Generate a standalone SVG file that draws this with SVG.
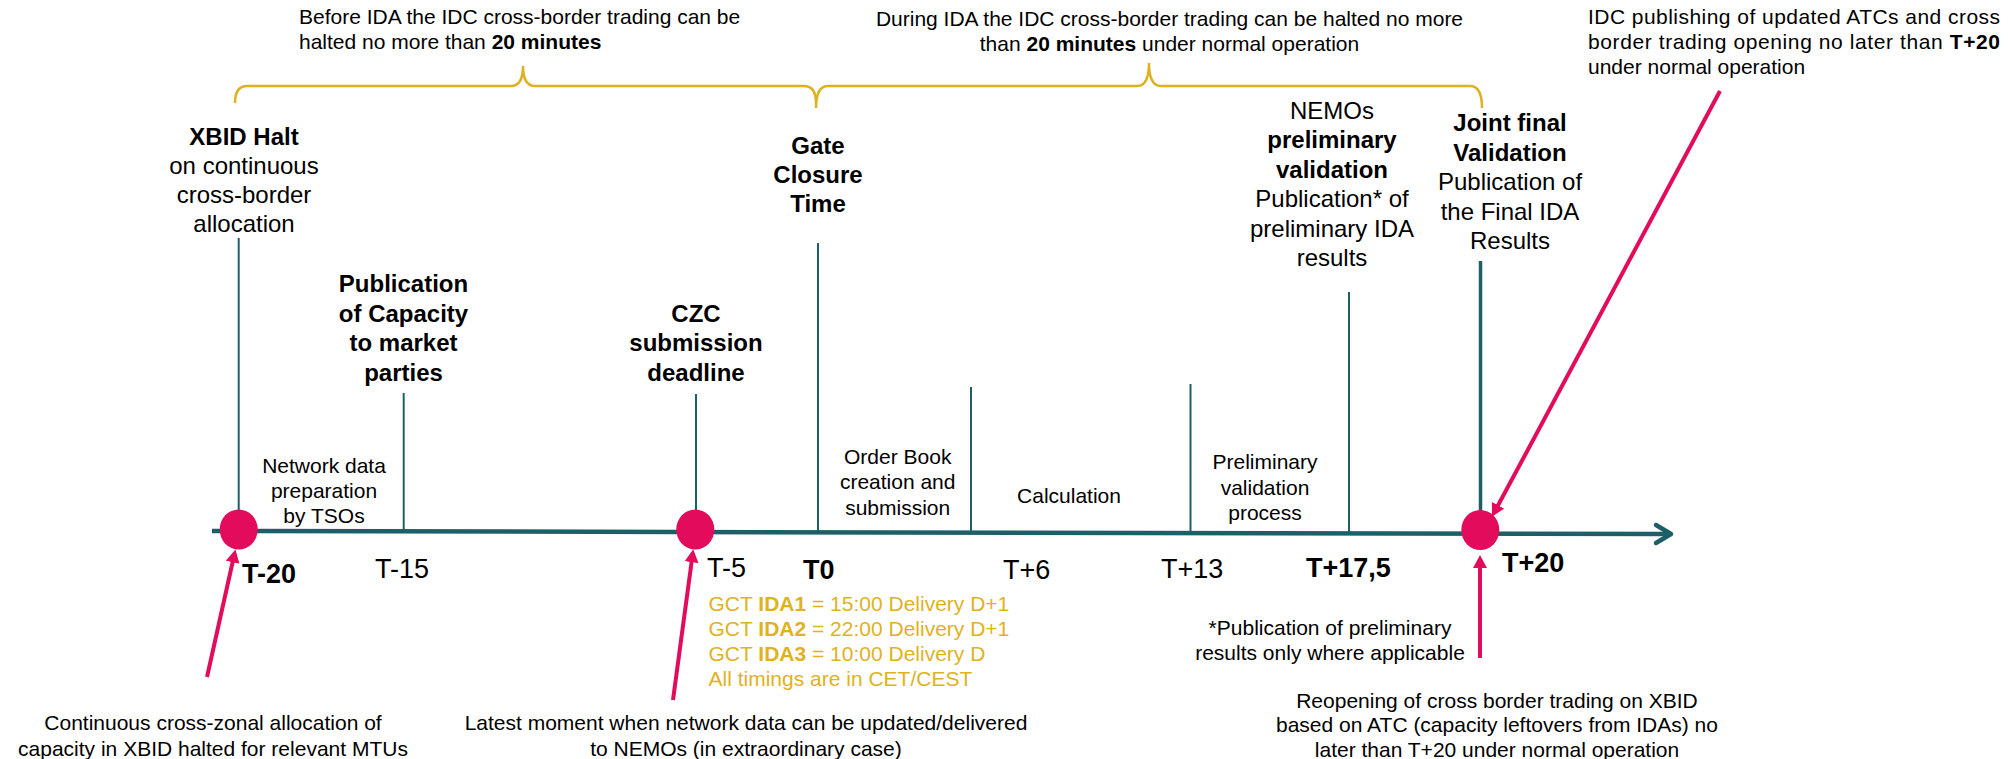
<svg xmlns="http://www.w3.org/2000/svg" width="2009" height="759" viewBox="0 0 2009 759">
<style>
text{font-family:"Liberation Sans",Arial,sans-serif;fill:#000}
.lab{font-size:24px;text-anchor:middle}
.sm{font-size:21px}
.smc{font-size:21px;text-anchor:middle}
.tick{font-size:27px}
.b{font-weight:bold}
.gold{fill:#E0B21E;font-size:21px}
.vl{stroke:#1D5F66;stroke-width:2;fill:none}
.brace{stroke:#DDB11F;stroke-width:2.5;fill:none}
.pa{stroke:#E30B5C;stroke-width:4;fill:none;marker-end:url(#ah)}
.dot{fill:#E30B5C}
</style>
<defs>
<marker id="ah" markerUnits="userSpaceOnUse" markerWidth="14" markerHeight="14" refX="4" refY="7" orient="auto" viewBox="0 0 14 14">
<path d="M0,0 L13,7 L0,14 z" fill="#E30B5C"/>
</marker>
</defs>
<rect width="2009" height="759" fill="#fff"/>

<g id="connectors">
<line x1="212" y1="531" x2="1669" y2="534" stroke="#1D5F66" stroke-width="4.5"/>
<polyline points="1656,525 1671,534 1656,543" fill="none" stroke="#1D5F66" stroke-width="4.5" stroke-linejoin="round" stroke-linecap="round"/>
<line class="vl" x1="238.7" y1="238" x2="238.7" y2="531"/>
<line class="vl" x1="403.7" y1="393" x2="403.7" y2="531.5"/>
<line class="vl" x1="696" y1="394" x2="696" y2="532"/>
<line class="vl" x1="818" y1="243" x2="818" y2="532.2"/>
<line class="vl" x1="971" y1="387" x2="971" y2="532.5"/>
<line class="vl" x1="1190.5" y1="384" x2="1190.5" y2="533"/>
<line class="vl" x1="1349" y1="292" x2="1349" y2="533.2"/>
<line class="vl" x1="1480.5" y1="261" x2="1480.5" y2="533.5" style="stroke-width:3.5"/>
<path class="brace" d="M235,103 Q235,86 247,86 L511,86 Q523,86 523,66 Q523,86 535,86 L804,86 Q816,86 816,103"/>
<path class="brace" d="M816,108 Q816,86 828,86 L1137,86 Q1149,86 1149,63 Q1149,86 1161,86 L1470,86 Q1482,86 1482,108"/>
<line class="pa" x1="207" y1="677" x2="233.5" y2="558.3"/>
<line class="pa" x1="673" y1="700" x2="692.1" y2="558.2"/>
<line class="pa" x1="1480" y1="658" x2="1480" y2="564"/>
<line class="pa" x1="1720" y1="91" x2="1496.2" y2="508.8"/>
</g>

<g id="dots">
<ellipse class="dot" cx="238.7" cy="529.5" rx="19" ry="20"/>
<ellipse class="dot" cx="695.3" cy="529.5" rx="19" ry="20"/>
<ellipse class="dot" cx="1480.3" cy="530" rx="19" ry="20"/>
</g>

<g id="note-before">
<text class="sm" x="299" y="24">Before IDA the IDC cross-border trading can be</text>
<text class="sm" x="299" y="49">halted no more than <tspan class="b">20 minutes</tspan></text>
</g>
<g id="note-during">
<text class="smc" x="1169.5" y="26">During IDA the IDC cross-border trading can be halted no more</text>
<text class="smc" x="1169.5" y="51">than <tspan class="b">20 minutes</tspan> under normal operation</text>
</g>
<g id="note-idc">
<text class="sm" x="1588" y="24" textLength="412" lengthAdjust="spacing">IDC publishing of updated ATCs and cross</text>
<text class="sm" x="1588" y="49" textLength="412" lengthAdjust="spacing">border trading opening no later than <tspan class="b">T+20</tspan></text>
<text class="sm" x="1588" y="74">under normal operation</text>
</g>

<g id="node-xbid">
<text class="lab b" x="244" y="145">XBID Halt</text>
<text class="lab" x="244" y="174">on continuous</text>
<text class="lab" x="244" y="203">cross-border</text>
<text class="lab" x="244" y="232">allocation</text>
</g>
<g id="node-publication">
<text class="lab b" x="403.5" y="292">Publication</text>
<text class="lab b" x="403.5" y="321.5">of Capacity</text>
<text class="lab b" x="403.5" y="351">to market</text>
<text class="lab b" x="403.5" y="380.5">parties</text>
</g>
<g id="node-czc">
<text class="lab b" x="696" y="322">CZC</text>
<text class="lab b" x="696" y="351">submission</text>
<text class="lab b" x="696" y="380.5">deadline</text>
</g>
<g id="node-gct">
<text class="lab b" x="818" y="153.5">Gate</text>
<text class="lab b" x="818" y="182.5">Closure</text>
<text class="lab b" x="818" y="211.5">Time</text>
</g>
<g id="node-nemos">
<text class="lab" x="1332" y="118.5">NEMOs</text>
<text class="lab b" x="1332" y="148">preliminary</text>
<text class="lab b" x="1332" y="177.5">validation</text>
<text class="lab" x="1332" y="207">Publication* of</text>
<text class="lab" x="1332" y="236.5">preliminary IDA</text>
<text class="lab" x="1332" y="266">results</text>
</g>
<g id="node-joint">
<text class="lab b" x="1510" y="131">Joint final</text>
<text class="lab b" x="1510" y="160.5">Validation</text>
<text class="lab" x="1510" y="190">Publication of</text>
<text class="lab" x="1510" y="219.5">the Final IDA</text>
<text class="lab" x="1510" y="249">Results</text>
</g>

<g id="phase-network">
<text class="smc" x="324" y="472.5">Network data</text>
<text class="smc" x="324" y="497.5">preparation</text>
<text class="smc" x="324" y="523">by TSOs</text>
</g>
<g id="phase-orderbook">
<text class="smc" x="897.7" y="464">Order Book</text>
<text class="smc" x="897.7" y="489">creation and</text>
<text class="smc" x="897.7" y="514.5">submission</text>
</g>
<g id="phase-calc">
<text class="smc" x="1069" y="503">Calculation</text>
</g>
<g id="phase-prelim">
<text class="smc" x="1265" y="469">Preliminary</text>
<text class="smc" x="1265" y="494.5">validation</text>
<text class="smc" x="1265" y="520">process</text>
</g>

<g id="ticks">
<text class="tick b" x="242" y="582.5">T-20</text>
<text class="tick" x="375" y="577.5">T-15</text>
<text class="tick" x="707" y="576.5">T-5</text>
<text class="tick b" x="803" y="578.5">T0</text>
<text class="tick" x="1003" y="578.5">T+6</text>
<text class="tick" x="1161" y="577.5">T+13</text>
<text class="tick b" x="1306" y="576.5">T+17,5</text>
<text class="tick b" x="1502" y="571.5">T+20</text>
</g>

<g id="gct-times">
<text class="gold" x="708.5" y="610.5">GCT <tspan class="b">IDA1</tspan> = 15:00 Delivery D+1</text>
<text class="gold" x="708.5" y="636">GCT <tspan class="b">IDA2</tspan> = 22:00 Delivery D+1</text>
<text class="gold" x="708.5" y="661">GCT <tspan class="b">IDA3</tspan> = 10:00 Delivery D</text>
<text class="gold" x="708.5" y="685.5">All timings are in CET/CEST</text>
</g>

<g id="note-prelim">
<text class="smc" x="1330" y="635">*Publication of preliminary</text>
<text class="smc" x="1330" y="660">results only where applicable</text>
</g>
<g id="note-continuous">
<text class="smc" x="213" y="730">Continuous cross-zonal allocation of</text>
<text class="smc" x="213" y="756">capacity in XBID halted for relevant MTUs</text>
</g>
<g id="note-latest">
<text class="smc" x="746" y="730">Latest moment when network data can be updated/delivered</text>
<text class="smc" x="746" y="756">to NEMOs (in extraordinary case)</text>
</g>
<g id="note-reopening">
<text class="smc" x="1497" y="707.5">Reopening of cross border trading on XBID</text>
<text class="smc" x="1497" y="732">based on ATC (capacity leftovers from IDAs) no</text>
<text class="smc" x="1497" y="756.5">later than T+20 under normal operation</text>
</g>
</svg>
